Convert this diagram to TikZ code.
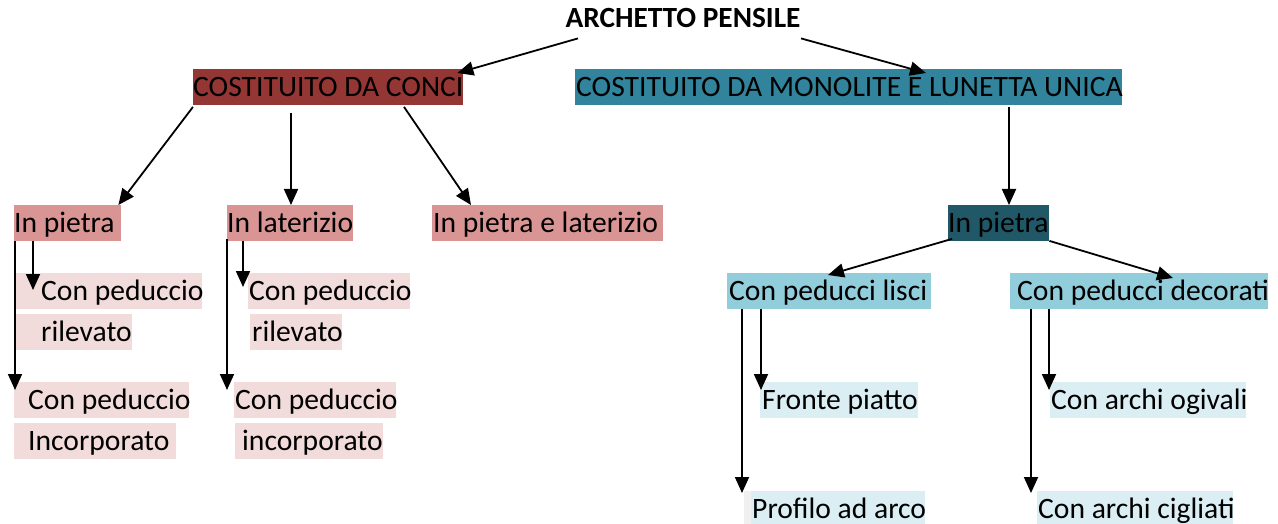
\documentclass[tikz,border=0pt]{standalone}
\usepackage{fontspec}
\setmainfont{Carlito}
\usetikzlibrary{arrows.meta}
\definecolor{conciC}{HTML}{943634}
\definecolor{monoC}{HTML}{31849B}
\definecolor{pinkC}{HTML}{D99594}
\definecolor{darkTealC}{HTML}{215868}
\definecolor{blueC}{HTML}{92CDDC}
\definecolor{lpinkC}{HTML}{F2DBDB}
\definecolor{lblueC}{HTML}{DAEEF3}
\definecolor{stripC}{HTML}{F0F0F0}
\begin{document}
\begin{tikzpicture}[x=1pt,y=-1pt,
  every node/.style={font=\fontsize{29.6}{34}\selectfont},
  bx/.style={anchor=north west,inner xsep=0pt,inner ysep=0pt,text height=27pt,text depth=8.5pt,text=black},
  arr/.style={line width=1.8pt,-{Triangle[length=16pt,width=14pt]}}]
\useasboundingbox (0,0) rectangle (1278,524);
% root
\node[anchor=base,inner sep=0pt,font=\fontsize{29.3}{34}\selectfont\bfseries] (root) at (683,28) {ARCHETTO PENSILE};
% level 1
\node[bx,fill=conciC] (conci) at (193,69) {\makebox[270pt][l]{COSTITUITO DA CONCI}};
\node[bx,fill=monoC] (mono) at (575,69) {\makebox[547pt][l]{\hspace*{1pt}COSTITUITO DA MONOLITE E LUNETTA UNICA}};
% level 2 left
\node[bx,fill=pinkC] (p1) at (14,205) {\makebox[107pt][l]{In pietra}};
\node[bx,fill=pinkC] (p2) at (227,205) {\makebox[126pt][l]{In laterizio}};
\node[bx,fill=pinkC] (p3) at (432,205) {\makebox[231pt][l]{\hspace*{1pt}In pietra e laterizio}};
% level 2 right
\node[bx,fill=darkTealC] (q1) at (948,205) {\makebox[101pt][l]{In pietra}};
\node[bx,fill=blueC] (q2) at (727,273) {\makebox[204pt][l]{\hspace*{2pt}Con peducci lisci}};
\node[bx,fill=blueC] (q3) at (1010,273) {\makebox[258pt][l]{\hspace*{7pt}Con peducci decorati}};
% level 3 left
\node[bx,fill=lpinkC] (a1) at (16,273) {\makebox[186pt][l]{\hspace*{25pt}Con peduccio}};
\node[bx,fill=lpinkC] (a2) at (16,314) {\makebox[116pt][l]{\hspace*{25pt}rilevato}};
\node[bx,fill=lpinkC] (a3) at (14,382) {\makebox[175pt][l]{\hspace*{14pt}Con peduccio}};
\node[bx,fill=lpinkC] (a4) at (14,423) {\makebox[162pt][l]{\hspace*{14pt}Incorporato}};
\node[bx,fill=lpinkC] (b1) at (248,273) {\makebox[162pt][l]{\hspace*{1pt}Con peduccio}};
\node[bx,fill=lpinkC] (b2) at (250,314) {\makebox[92pt][l]{\hspace*{2pt}rilevato}};
\node[bx,fill=lpinkC] (b3) at (234,382) {\makebox[162pt][l]{\hspace*{1pt}Con peduccio}};
\node[bx,fill=lpinkC] (b4) at (235,423) {\makebox[148pt][l]{\hspace*{7pt}incorporato}};
% level 3 right
\node[bx,fill=lblueC] (c1) at (760,382) {\makebox[158pt][l]{\hspace*{2pt}Fronte piatto}};
\fill[stripC] (744,491) rectangle (751,524);
\node[bx,fill=lblueC] (c2) at (751,491) {\makebox[174pt][l]{\hspace*{1pt}Profilo ad arco}};
\node[bx,fill=lblueC] (d1) at (1050,382) {\makebox[196pt][l]{\hspace*{1pt}Con archi ogivali}};
\node[bx,fill=lblueC] (d2) at (1037,491) {\makebox[196pt][l]{\hspace*{1pt}Con archi cigliati}};
% connectors
\draw[arr] ([shift={(-105,10)}]root.south) -- ([shift={(-6,4)}]conci.north east);
\draw[arr] ([shift={(118,10)}]root.south) -- ([shift={(351,4)}]mono.north west);
\draw[arr] ([shift={(0,2)}]conci.south west) -- ([shift={(-3,0)}]p1.north east);
\draw[arr] ([shift={(98,8)}]conci.south west) -- ([shift={(64,0)}]p2.north west);
\draw[arr] ([shift={(211,2)}]conci.south west) -- ([shift={(39,0)}]p3.north west);
\draw[arr] ([shift={(19,0)}]p1.south west) -- ([shift={(17,17)}]a1.north west);
\draw[arr] ([shift={(1,0)}]p1.south west) -- ([shift={(1,8)}]a3.north west);
\draw[arr] ([shift={(16,0)}]p2.south west) -- ([shift={(-5,14)}]b1.north west);
\draw[arr] ([shift={(0,-2)}]p2.south west) -- ([shift={(-7,8)}]b3.north west);
\draw[arr] ([shift={(434,2)}]mono.south west) -- ([shift={(61,0)}]q1.north west);
\draw[arr] ([shift={(4,-2)}]q1.south west) -- ([shift={(101,2)}]q2.north west);
\draw[arr] (q1.south east) -- ([shift={(163,5)}]q3.north west);
\draw[arr] ([shift={(34,0)}]q2.south west) -- ([shift={(1,8)}]c1.north west);
\draw[arr] ([shift={(15,0)}]q2.south west) -- ([shift={(-9,2)}]c2.north west);
\draw[arr] ([shift={(39,0)}]q3.south west) -- ([shift={(-1,8)}]d1.north west);
\draw[arr] ([shift={(21,0)}]q3.south west) -- ([shift={(-6,2)}]d2.north west);
\end{tikzpicture}
\end{document}
